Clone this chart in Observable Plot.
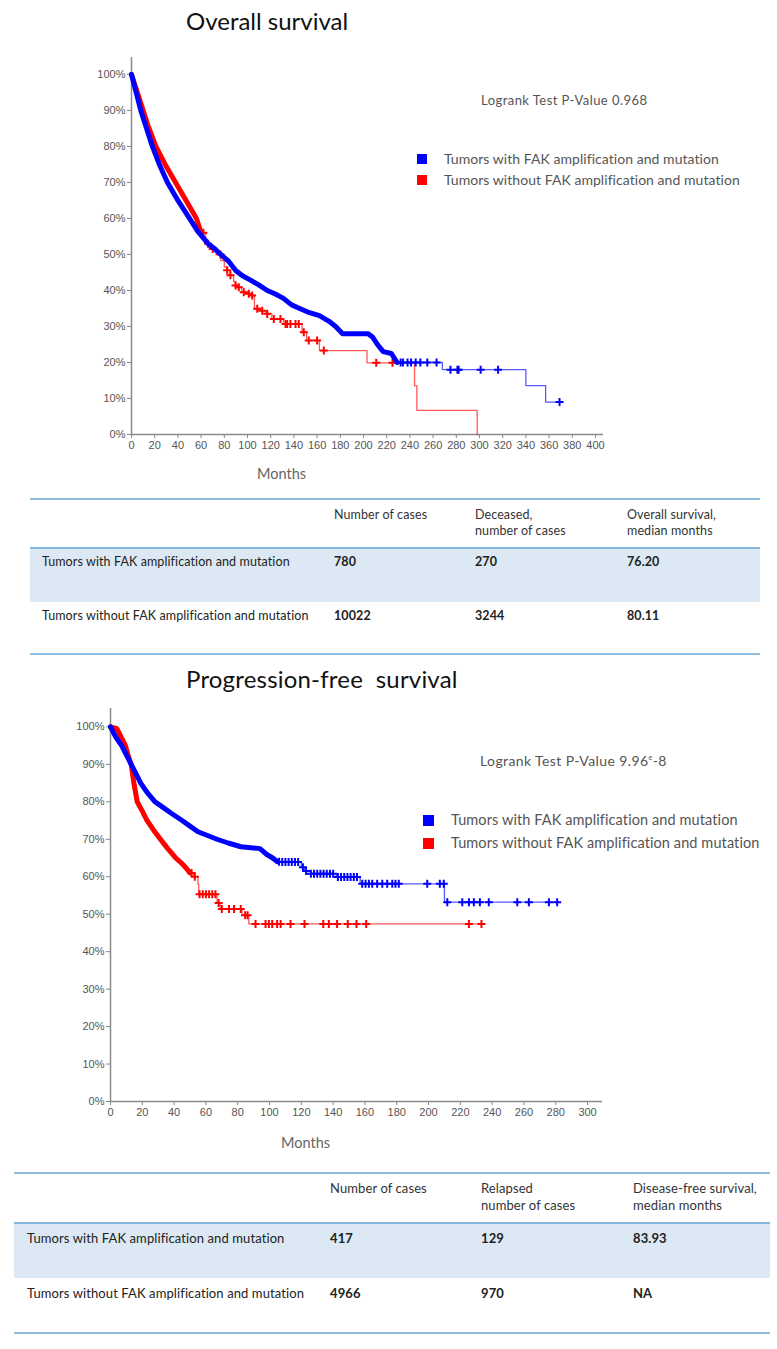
<!DOCTYPE html>
<html>
<head>
<meta charset="utf-8">
<script src="https://cdn.jsdelivr.net/npm/d3@7"></script>
<script src="https://cdn.jsdelivr.net/npm/@observablehq/plot@0.6"></script>
<style>
  html, body { margin: 0; padding: 0; background: #fff; }
  #page { position: relative; width: 777px; height: 1349px; overflow: hidden; font-family: Lato, "Open Sans", sans-serif; }
  .abs { position: absolute; white-space: nowrap; }
  .title { font-family: Lato, sans-serif; font-size: 24px; color: #111; line-height: 28px; }
  .logrank { color: #555; line-height: 16px; }
  .legtext { color: #555; line-height: 16px; }
  .sw { position: absolute; width: 10px; height: 10px; }
  .months { font-family: Lato, sans-serif; font-size: 14.5px; color: #666; line-height: 18px; }
  .tline { position: absolute; height: 2px; background: #8fbde0; }
  .band { position: absolute; background: #dce9f5; border-top: 2px solid #86b8de; }
  .cell { position: absolute; white-space: nowrap; color: #222; line-height: 14px; }
  .b { font-weight: bold; }
  .chart { position: absolute; left: 0; }
</style>
</head>
<body>
<div id="page"></div>
<script>
// ---------------- DATA ----------------
const seriesNames = ["Tumors with FAK amplification and mutation", "Tumors without FAK amplification and mutation"];
const seriesColors = ["#0000ff", "#ff0000"];

// Overall survival (months, survival %)
const osBlueDense = [[0,100],[4,95],[8,90],[13,85],[18,80],[24,75],[31,70],[40,65],[50,60],[57,56.5],[66,53],[72,51.5],[77,50],[84,48],[90,45.5],[96,44],[103,42.8],[110,41.5],[117,40],[124,39],[131,37.8],[138,36],[145,35],[152,34],[162,33],[170,31.5],[176,30],[182,28],[204,28],[208,27],[212,25],[217,23],[224,22.5],[229,20]];
const osBlueSteps = [[229,20],[268,18],[340,13.6],[357,9],[369,9]];
const osBlueCensor = [232,234,238,241,245,249,255,263,275,281,282,301,316,369];
const osRedDense = [[0,100],[4,96],[9,91],[14,86],[21,80],[29,75],[38,70],[47,65],[56,60],[60,56]];
const osRedSteps = [[60,56],[64,53],[68,51.5],[73,50],[77,48.3],[80,46.5],[82,45.6],[85,44.2],[88,42.5],[89.5,41.4],[92,40.9],[95,39.5],[100,39.1],[103,38.6],[106,34.9],[111,34.4],[116,33.5],[121,32.1],[131,30.7],[147,28.4],[151,26.1],[162,23.3],[203,19.9],[244,13.6],[246,6.7],[298,0]];
const osRedCensor = [62,66,70,76.7,82.5,85.3,89.7,92.5,96.8,101.1,104,108.4,112.7,117,122.7,128.4,132.8,134.2,137,141.4,144.2,148.5,152.8,160,165.8,211,225];

// Progression-free survival
const pfsBlueDense = [[0,100],[3,97.5],[7,95],[10,92.5],[13,90],[16,87.5],[19,85],[23,82.5],[28,80],[33,78.5],[38,77],[45,75],[50,73.5],[55,72],[61,71],[67,70],[74,69],[82,68],[94,67.5],[98,66],[102,65],[105,64]];
const pfsBlueSteps = [[105,64],[108,63.9],[120,62.5],[122,61.5],[126,60.8],[142,59.9],[157,58.1],[210,53.2],[282,53.2]];
const pfsBlueCensor = [106,108,110,112,114,116,118,121,123,126,128,130,132,134,136,138,140,143,145,147,149,151,153,155,158.3,160.4,162.5,164.6,167.7,170.9,174,177.2,179.2,181.3,199.2,207.1,209.6,211.8,221.2,225.4,228.5,232.3,237.9,255.8,263.1,275.7,280.9];
const pfsRedDense = [[0,100],[4,99.5],[7,97],[9.4,95],[11,92.5],[13,90],[14.7,85],[16.8,80],[20,77.5],[23,75],[27,72.5],[31.4,70],[36,67.5],[41,65],[45,63.5],[48.2,62],[50,61]];
const pfsRedSteps = [[50,61],[52.4,60],[55,58],[55.5,55.3],[65,55.3],[67,53],[69,51.4],[82.7,49.7],[87,47.4],[233.3,47.4]];
const pfsRedCensor = [51,53,56,58,60,62,64,66,68,70,74.5,77.7,81.9,84.7,86.2,91.2,97.5,99.6,101.7,104.8,107,113.2,122,133.8,137.3,142.5,149.2,154.7,160.8,225.4,233.3];

const yTicks = [0,10,20,30,40,50,60,70,80,90,100];
const osXTicks = d3.range(0, 401, 20);
const pfsXTicks = d3.range(0, 301, 20);

const osTableHeader = ["Number of cases", "Deceased,\nnumber of cases", "Overall survival,\nmedian months"];
const osTableRows = [["Tumors with FAK amplification and mutation", "780", "270", "76.20"], ["Tumors without FAK amplification and mutation", "10022", "3244", "80.11"]];
const pfsTableHeader = ["Number of cases", "Relapsed\nnumber of cases", "Disease-free survival,\nmedian months"];
const pfsTableRows = [["Tumors with FAK amplification and mutation", "417", "129", "83.93"], ["Tumors without FAK amplification and mutation", "4966", "970", "NA"]];

// ---------------- HELPERS ----------------
const page = document.getElementById("page");
function add(html, cls, style) {
  const d = document.createElement("div");
  d.className = cls;
  Object.assign(d.style, style);
  d.innerHTML = html;
  page.appendChild(d);
  return d;
}
const toObj = arr => arr.map(([m, s]) => ({m, s}));
function stepAt(steps, t) {
  let v = steps[0][1];
  for (const [m, s] of steps) if (m <= t) v = s;
  return v;
}

function kmChart({series, xDomain, yDomain, xTicks, width, height, mt, mb, ml, mr, dense}) {
  const marks = [
    Plot.ruleY([0], {stroke: "#8a8a8a", strokeWidth: 1.5}),
    Plot.ruleX([0], {stroke: "#8a8a8a", strokeWidth: 1.5}),
    Plot.axisY({ticks: yTicks, tickFormat: d => d + "%", tickSize: 4, tickPadding: 2, fontSize: 11, stroke: "#888", color: "#555", label: null}),
    Plot.axisX({ticks: xTicks, tickFormat: d => d, tickSize: 4, tickPadding: 3, fontSize: 11, stroke: "#888", color: "#555", label: null})
  ];
  for (const s of [...series].reverse()) {
    marks.push(Plot.line(toObj(s.steps), {x: "m", y: "s", curve: "step-after", stroke: s.color, strokeWidth: 1.3, strokeOpacity: 0.65}));
    marks.push(Plot.line(toObj(s.dense), {x: "m", y: "s", curve: "linear", stroke: s.color, strokeWidth: dense, strokeLinejoin: "round", strokeLinecap: "round"}));
    marks.push(Plot.dot(s.censor.map(m => ({m, s: stepAt(s.steps, m)})), {x: "m", y: "s", symbol: "plus", r: 2.7, stroke: s.color, strokeWidth: 2}));
  }
  return Plot.plot({
    width, height, marginTop: mt, marginBottom: mb, marginLeft: ml, marginRight: mr,
    style: {fontFamily: "'Liberation Sans', Arial, sans-serif", overflow: "visible", background: "transparent"},
    x: {domain: xDomain},
    y: {domain: yDomain},
    marks
  });
}

// ---------------- CHART 1 : Overall survival ----------------
add("Overall survival", "abs title", {left: "186px", top: "7px"});
const c1 = kmChart({
  series: [
    {color: seriesColors[0], dense: osBlueDense, steps: osBlueSteps, censor: osBlueCensor},
    {color: seriesColors[1], dense: osRedDense, steps: osRedSteps, censor: osRedCensor}
  ],
  xDomain: [0, 406.9], yDomain: [0, 104.7], xTicks: osXTicks,
  width: 777, height: 460, mt: 57, mb: 26, ml: 131, mr: 174, dense: 5
});
c1.classList.add("chart"); c1.style.top = "0px";
page.appendChild(c1);
add("Months", "abs months", {left: "257px", top: "465px"});
add("Logrank Test P-Value 0.968", "abs logrank", {left: "481px", top: "92px", fontSize: "13px", letterSpacing: "0.45px"});
[0, 1].forEach(i => {
  const cy = [159, 180][i];
  add("", "sw", {left: "417px", top: (cy - 5) + "px", background: seriesColors[i]});
  add(seriesNames[i], "abs legtext", {left: "444px", top: (cy - 8) + "px", fontSize: "14px", letterSpacing: "0.05px"});
});

// ---------------- TABLE helper ----------------
function table({top, lineL, lineR, headY, bandTop, bandBot, row1Y, row2Y, bottom, labelX, colX, header, rows, fs, ls}) {
  const f = {fontSize: fs + "px", letterSpacing: ls + "px"};
  add("", "tline", {left: lineL + "px", width: (lineR - lineL) + "px", top: (top - 1) + "px"});
  header.forEach((h, i) => {
    h.split("\n").forEach((line, j) => {
      add(line, "cell", {left: colX[i] + "px", top: (headY[j] - 7) + "px", color: "#333", ...f});
    });
  });
  add("", "band", {left: lineL + "px", width: (lineR - lineL) + "px", top: (bandTop - 1) + "px", height: (bandBot - bandTop) + "px"});
  [row1Y, row2Y].forEach((ry, r) => {
    add(rows[r][0], "cell", {left: labelX + "px", top: (ry - 7) + "px", ...f});
    for (let k = 1; k < 4; k++) add(rows[r][k], "cell b", {left: colX[k - 1] + "px", top: (ry - 7) + "px", ...f});
  });
  add("", "tline", {left: lineL + "px", width: (lineR - lineL) + "px", top: (bottom - 1) + "px"});
}

table({top: 499, lineL: 30, lineR: 760, headY: [515, 531], bandTop: 548, bandBot: 601, row1Y: 562, row2Y: 616, bottom: 654,
  labelX: 42, colX: [334, 475, 627], header: osTableHeader, rows: osTableRows, fs: 12.5, ls: 0.1});

// ---------------- CHART 2 : Progression-free survival ----------------
add("Progression-free&nbsp; survival", "abs title", {left: "186px", top: "665px", letterSpacing: "0.2px"});
const c2 = kmChart({
  series: [
    {color: seriesColors[0], dense: pfsBlueDense, steps: pfsBlueSteps, censor: pfsBlueCensor},
    {color: seriesColors[1], dense: pfsRedDense, steps: pfsRedSteps, censor: pfsRedCensor}
  ],
  xDomain: [0, 309.4], yDomain: [0, 104.9], xTicks: pfsXTicks,
  width: 777, height: 467, mt: 48, mb: 26, ml: 110, mr: 175, dense: 5
});
c2.classList.add("chart"); c2.style.top = "660px";
page.appendChild(c2);
add("Months", "abs months", {left: "281px", top: "1134px"});
add("Logrank Test P-Value 9.96<sup style=\"font-size:7px\">e</sup>-8", "abs logrank", {left: "480px", top: "749px", fontSize: "14px", letterSpacing: "0.4px"});
[0, 1].forEach(i => {
  const cy = [820, 843][i];
  add("", "sw", {left: "423px", top: (cy - 5) + "px", background: seriesColors[i], width: "11px", height: "11px"});
  add(seriesNames[i], "abs legtext", {left: "451px", top: (cy - 8) + "px", fontSize: "14.5px", letterSpacing: "0.1px"});
});

table({top: 1173, lineL: 14, lineR: 770, headY: [1188, 1205], bandTop: 1223, bandBot: 1277, row1Y: 1238, row2Y: 1293, bottom: 1333,
  labelX: 27, colX: [330, 481, 633], header: pfsTableHeader, rows: pfsTableRows, fs: 13, ls: 0.1});
</script>
</body>
</html>
